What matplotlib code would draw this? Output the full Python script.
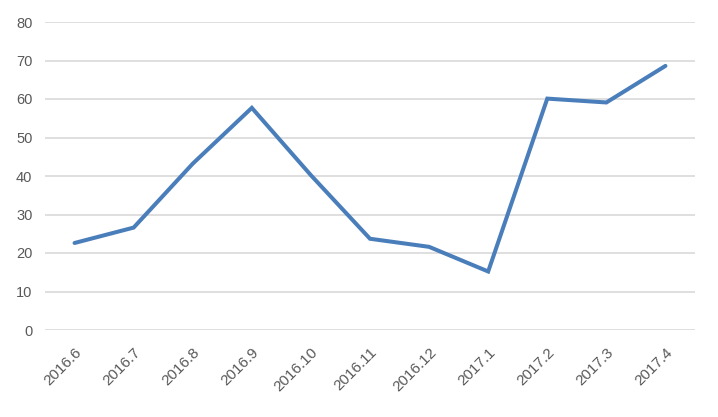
import matplotlib
matplotlib.use('Agg')
from matplotlib import pyplot as plt

months = ['2016.6', '2016.7', '2016.8', '2016.9', '2016.10', '2016.11',
          '2016.12', '2017.1', '2017.2', '2017.3', '2017.4']
values = [22.6, 26.6, 43.2, 57.7, 40.2, 23.7, 21.6, 15.2, 60.1, 59.1, 68.6]
y_ticks = [0, 10, 20, 30, 40, 50, 60, 70, 80]

plt.rcParams['font.family'] = ['Liberation Sans', 'DejaVu Sans']

fig = plt.figure(figsize=(7.18, 4.17), dpi=100)
ax = fig.add_axes([45 / 718, 1 - 330 / 417, 650 / 718, 308 / 417])

x = list(range(len(months)))
ax.plot(x, values, color='#4a7ebb', linewidth=2.9, solid_capstyle='round',
        solid_joinstyle='miter', zorder=3)

ax.set_xlim(-0.5, len(months) - 0.5)
ax.set_ylim(0, 80)
ax.set_yticks(y_ticks)
ax.set_xticks(x)
ax.set_xticklabels(months, rotation=45, ha='right', rotation_mode='anchor')
ax.grid(axis='y', color='#d9d9d9', linewidth=1.2, zorder=0)
ax.tick_params(axis='both', length=0, labelcolor='#595959')
ax.tick_params(axis='y', pad=9, labelsize=10.5)
ax.tick_params(axis='x', pad=11, labelsize=11)
for side in ['top', 'right', 'left', 'bottom']:
    ax.spines[side].set_visible(False)

fig.savefig('out.png', dpi=100)
